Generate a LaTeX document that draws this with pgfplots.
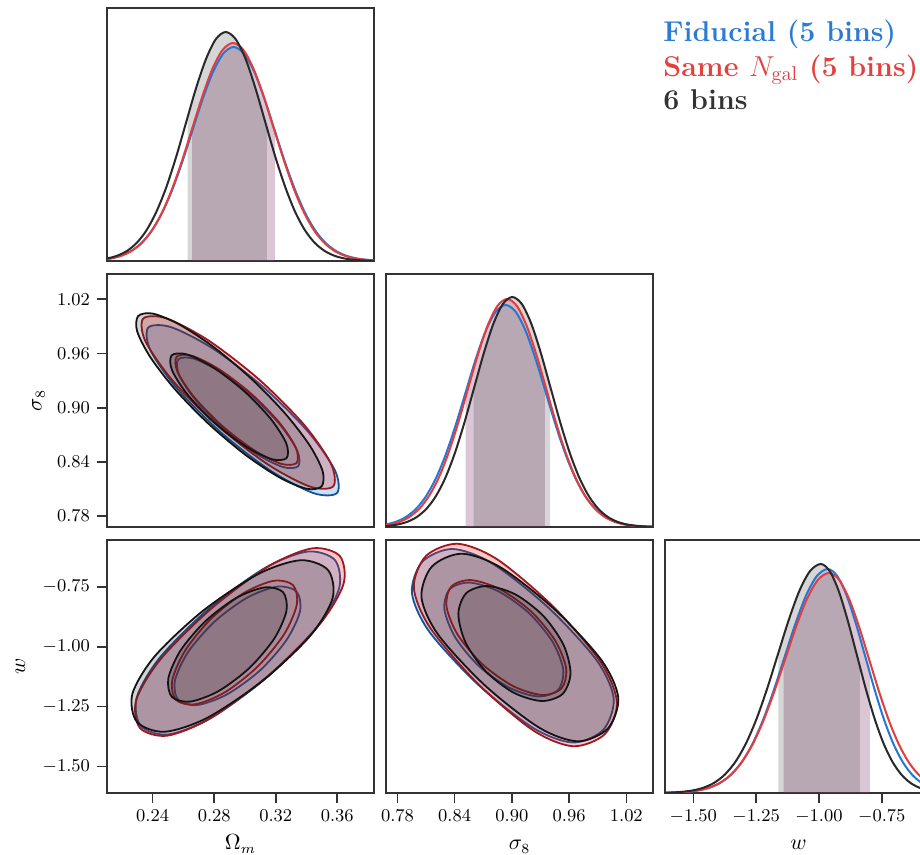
\documentclass[border=0pt]{standalone}
\usepackage{pgfplots}
\pgfplotsset{compat=1.18}

% shading colours (used with opacity) and line colours
\definecolor{cblue}{rgb}{0.08,0.56,0.92}
\definecolor{cred}{rgb}{0.96,0.12,0.12}
\definecolor{cgray}{rgb}{0.15,0.15,0.15}
\definecolor{lblue}{rgb}{0.13,0.47,0.84}
\definecolor{lred}{rgb}{0.89,0.24,0.24}
\definecolor{lblack}{rgb}{0.16,0.16,0.16}
\definecolor{dblue}{rgb}{0.10,0.32,0.58}
\definecolor{dred}{rgb}{0.62,0.10,0.12}
\definecolor{dblack}{rgb}{0.08,0.08,0.08}
\definecolor{frame}{rgb}{0.2,0.2,0.2}
\definecolor{legblue}{rgb}{0.17,0.48,0.83}
\definecolor{legred}{rgb}{0.89,0.25,0.25}
\definecolor{legblack}{rgb}{0.2,0.2,0.2}

\tikzset{legtext/.style={anchor=base west, inner sep=0pt, font=\fontsize{14.3}{17}\selectfont\bfseries}}

\pgfplotsset{
  panel/.style={
    scale only axis, width=133.5pt, height=126.5pt,
    axis line style={line width=1.1pt, draw=frame},
    tick align=outside, major tick length=5pt,
    tick style={line width=0.8pt, draw=frame},
    xtick pos=left, ytick pos=left,
    tick label style={font=\fontsize{9}{10}\selectfont},
    label style={font=\fontsize{10.5}{12}\selectfont},
    xticklabel style={/pgf/number format/fixed, /pgf/number format/fixed zerofill, /pgf/number format/precision=2},
    yticklabel style={/pgf/number format/fixed, /pgf/number format/fixed zerofill, /pgf/number format/precision=2},
    xlabel style={at={(axis description cs:0.5,-0.225)}, anchor=base},
  },
  oned/.style={panel, ymin=0, ymax=253, ytick=\empty},
  omx/.style={xmin=0.2103, xmax=0.3839},
  s8x/.style={xmin=0.768, xmax=1.048},
  s8y/.style={ymin=0.768, ymax=1.048},
  wy/.style={ymin=-1.61, ymax=-0.555},
  wx/.style={xmin=-1.6127, xmax=-0.55},
  % 2D credible regions
  bout/.style={smooth cycle, fill=cblue, fill opacity=0.25, draw=dblue, line width=0.9pt},
  bin/.style={smooth cycle, fill=cblue, fill opacity=0.05, draw=dblue, line width=0.9pt},
  rout/.style={smooth cycle, fill=cred, fill opacity=0.25, draw=dred, line width=0.9pt},
  rin/.style={smooth cycle, fill=cred, fill opacity=0.05, draw=dred, line width=0.9pt},
  kout/.style={smooth cycle, fill=cgray, fill opacity=0.20, draw=dblack, line width=0.9pt},
  kin/.style={smooth cycle, fill=cgray, fill opacity=0.20, draw=dblack, line width=0.9pt},
  % 1D marginals
  bband/.style={draw=none, fill=cblue, fill opacity=0.18},
  rband/.style={draw=none, fill=cred, fill opacity=0.18},
  kband/.style={draw=none, fill=cgray, fill opacity=0.19},
  bline/.style={smooth, draw=lblue, line width=1pt},
  rline/.style={smooth, draw=lred, line width=1pt},
  kline/.style={smooth, draw=lblack, line width=1pt},
}

\begin{document}
\begin{tikzpicture}

% ---------- Omega_m marginal ----------
\begin{axis}[oned, omx, at={(53.5pt,297pt)}, anchor=south west, xtick=\empty]
\addplot[bband] coordinates {(0.2657,0) (0.2657,129.8) (0.2724,161.54) (0.2792,188.86) (0.2859,207.42) (0.2926,214) (0.2993,207.42) (0.3061,188.86) (0.3128,161.54) (0.3195,129.8) (0.3195,0)} -- cycle;
\addplot[rband] coordinates {(0.2657,0) (0.2657,132.8) (0.2723,164.56) (0.2789,192.39) (0.2856,211.29) (0.2922,218) (0.2989,211.29) (0.3055,192.39) (0.3122,164.56) (0.3188,132.22) (0.3195,128.8) (0.3195,0)} -- cycle;
\addplot[kband] coordinates {(0.2628,0) (0.2628,144.3) (0.2682,172.86) (0.2747,202.09) (0.2811,221.95) (0.2875,229) (0.2939,221.95) (0.3004,202.09) (0.3068,172.86) (0.3132,138.90) (0.3143,132.9) (0.3143,0)} -- cycle;
\addplot[bline] coordinates {(0.2052,1.09) (0.2119,2.38) (0.2186,4.88) (0.2254,9.40) (0.2321,17.03) (0.2388,28.96) (0.2455,46.28) (0.2523,69.48) (0.2590,97.98) (0.2657,129.80) (0.2724,161.54) (0.2792,188.86) (0.2859,207.42) (0.2926,214) (0.2993,207.42) (0.3061,188.86) (0.3128,161.54) (0.3195,129.80) (0.3262,97.98) (0.3330,69.48) (0.3397,46.28) (0.3464,28.96) (0.3531,17.03) (0.3599,9.40) (0.3666,4.88) (0.3733,2.38) (0.3800,1.09) (0.3868,0.47)};
\addplot[rline] coordinates {(0.2058,1.11) (0.2124,2.42) (0.2191,4.97) (0.2257,9.58) (0.2324,17.34) (0.2390,29.50) (0.2457,47.15) (0.2523,70.77) (0.2590,99.81) (0.2656,132.22) (0.2723,164.56) (0.2789,192.39) (0.2856,211.29) (0.2922,218) (0.2989,211.29) (0.3055,192.39) (0.3122,164.56) (0.3188,132.22) (0.3255,99.81) (0.3321,70.77) (0.3388,47.15) (0.3454,29.50) (0.3521,17.34) (0.3587,9.58) (0.3654,4.97) (0.3720,2.42) (0.3787,1.11) (0.3853,0.48)};
\addplot[kline] coordinates {(0.2040,1.16) (0.2104,2.54) (0.2168,5.22) (0.2233,10.06) (0.2297,18.22) (0.2361,30.99) (0.2425,49.53) (0.2490,74.34) (0.2554,104.84) (0.2618,138.90) (0.2682,172.86) (0.2747,202.09) (0.2811,221.95) (0.2875,229) (0.2939,221.95) (0.3004,202.09) (0.3068,172.86) (0.3132,138.90) (0.3196,104.84) (0.3261,74.34) (0.3325,49.53) (0.3389,30.99) (0.3453,18.22) (0.3518,10.06) (0.3582,5.22) (0.3646,2.54) (0.3710,1.16) (0.3775,0.50) (0.3839,0.20) (0.3903,0.08)};
\end{axis}

% ---------- Omega_m vs sigma_8 ----------
\begin{axis}[panel, omx, s8y, at={(53.5pt,164pt)}, anchor=south west, xtick=\empty,
  ytick={0.78,0.84,0.90,0.96,1.02}, ylabel={$\sigma_8$},
  ylabel style={at={(axis description cs:-0.245,0.5)}, anchor=base}]
\addplot[bout] coordinates {(0.2371,0.9887) (0.2521,0.9891) (0.2796,0.9650) (0.3121,0.9226) (0.3410,0.8735) (0.3585,0.8307) (0.3599,0.8057) (0.3449,0.8053) (0.3174,0.8295) (0.2849,0.8718) (0.2560,0.9210) (0.2385,0.9637)};
\addplot[bin] coordinates {(0.2566,0.9535) (0.2666,0.9544) (0.2843,0.9393) (0.3051,0.9121) (0.3233,0.8802) (0.3341,0.8521) (0.3346,0.8353) (0.3246,0.8344) (0.3069,0.8495) (0.2861,0.8767) (0.2679,0.9086) (0.2571,0.9366)};
\addplot[rout] coordinates {(0.2338,0.9986) (0.2489,0.9989) (0.2765,0.9742) (0.3092,0.9312) (0.3383,0.8814) (0.3559,0.8381) (0.3574,0.8130) (0.3423,0.8127) (0.3147,0.8374) (0.2820,0.8804) (0.2529,0.9302) (0.2353,0.9735)};
\addplot[rin] coordinates {(0.2556,0.9565) (0.2656,0.9575) (0.2833,0.9424) (0.3041,0.9154) (0.3223,0.8836) (0.3331,0.8556) (0.3336,0.8389) (0.3236,0.8379) (0.3059,0.8530) (0.2851,0.8800) (0.2669,0.9118) (0.2561,0.9398)};
\addplot[kout] coordinates {(0.2306,1.0015) (0.2403,1.0041) (0.2577,0.9918) (0.2799,0.9668) (0.3038,0.9326) (0.3256,0.8946) (0.3420,0.8585) (0.3505,0.8298) (0.3498,0.8129) (0.3401,0.8103) (0.3227,0.8226) (0.3005,0.8476) (0.2766,0.8818) (0.2548,0.9198) (0.2385,0.9559) (0.2299,0.9846)};
\addplot[kin] coordinates {(0.2523,0.9579) (0.2620,0.9591) (0.2792,0.9448) (0.2992,0.9188) (0.3166,0.8880) (0.3268,0.8608) (0.3271,0.8443) (0.3174,0.8431) (0.3002,0.8574) (0.2802,0.8834) (0.2628,0.9142) (0.2526,0.9414)};
\end{axis}

% ---------- sigma_8 marginal ----------
\begin{axis}[oned, s8x, at={(193pt,164pt)}, anchor=south west, xtick=\empty]
\addplot[bband] coordinates {(0.8516,0) (0.8516,135.9) (0.8620,167.57) (0.8725,195.92) (0.8830,215.17) (0.8935,222) (0.9040,215.17) (0.9145,195.92) (0.9250,167.57) (0.9345,137.9) (0.9345,0)} -- cycle;
\addplot[rband] coordinates {(0.8516,0) (0.8516,130.2) (0.8540,138.29) (0.8643,172.10) (0.8745,201.21) (0.8848,220.98) (0.8950,228) (0.9053,220.98) (0.9155,201.21) (0.9258,172.10) (0.9345,143.4) (0.9345,0)} -- cycle;
\addplot[kband] coordinates {(0.860,0) (0.860,137.7) (0.8705,173.61) (0.8805,202.98) (0.8905,222.92) (0.9005,230) (0.9105,222.92) (0.9205,202.98) (0.9305,173.61) (0.940,141.2) (0.940,0)} -- cycle;
\addplot[bline] coordinates {(0.7675,2.47) (0.7780,5.06) (0.7885,9.75) (0.7990,17.66) (0.8095,30.05) (0.8200,48.01) (0.8305,72.07) (0.8410,101.64) (0.8515,134.65) (0.8620,167.57) (0.8725,195.92) (0.8830,215.17) (0.8935,222) (0.9040,215.17) (0.9145,195.92) (0.9250,167.57) (0.9355,134.65) (0.9460,101.64) (0.9565,72.07) (0.9670,48.01) (0.9775,30.05) (0.9880,17.66) (0.9985,9.75) (1.0090,5.06) (1.0195,2.47) (1.0300,1.13) (1.0405,0.49) (1.0510,0.20)};
\addplot[rline] coordinates {(0.7618,1.16) (0.7720,2.53) (0.7823,5.20) (0.7925,10.02) (0.8028,18.14) (0.8130,30.86) (0.8233,49.31) (0.8335,74.02) (0.8438,104.39) (0.8540,138.29) (0.8643,172.10) (0.8745,201.21) (0.8848,220.98) (0.8950,228) (0.9053,220.98) (0.9155,201.21) (0.9258,172.10) (0.9360,138.29) (0.9463,104.39) (0.9565,74.02) (0.9668,49.31) (0.9770,30.86) (0.9873,18.14) (0.9975,10.02) (1.0078,5.20) (1.0180,2.53) (1.0283,1.16) (1.0385,0.50) (1.0488,0.20)};
\addplot[kline] coordinates {(0.7605,0.50) (0.7705,1.17) (0.7805,2.56) (0.7905,5.24) (0.8005,10.11) (0.8105,18.30) (0.8205,31.13) (0.8305,49.74) (0.8405,74.67) (0.8505,105.30) (0.8605,139.50) (0.8705,173.61) (0.8805,202.98) (0.8905,222.92) (0.9005,230) (0.9105,222.92) (0.9205,202.98) (0.9305,173.61) (0.9405,139.50) (0.9505,105.30) (0.9605,74.67) (0.9705,49.74) (0.9805,31.13) (0.9905,18.30) (1.0005,10.11) (1.0105,5.24) (1.0205,2.56) (1.0305,1.17) (1.0405,0.50) (1.0505,0.20)};
\end{axis}

% ---------- Omega_m vs w ----------
\begin{axis}[panel, omx, wy, at={(53.5pt,31pt)}, anchor=south west,
  xtick={0.24,0.28,0.32,0.36}, ytick={-1.5,-1.25,-1,-0.75},
  xlabel={$\Omega_m$}, ylabel={$w$},
  ylabel style={at={(axis description cs:-0.307,0.5)}, anchor=base}]
\addplot[bout] coordinates {(0.2323,-1.3305) (0.2501,-1.3659) (0.2781,-1.2968) (0.3144,-1.1271) (0.3462,-0.9232) (0.3612,-0.7572) (0.3585,-0.6387) (0.3407,-0.6033) (0.3128,-0.6724) (0.2764,-0.8421) (0.2446,-1.0460) (0.2296,-1.2120)};
\addplot[bin] coordinates {(0.2566,-1.2222) (0.2691,-1.2432) (0.2885,-1.1981) (0.3098,-1.0989) (0.3270,-0.9722) (0.3358,-0.8520) (0.3336,-0.7704) (0.3211,-0.7494) (0.3017,-0.7945) (0.2805,-0.8937) (0.2632,-1.0204) (0.2545,-1.1406)};
\addplot[rout] coordinates {(0.2317,-1.3388) (0.2496,-1.3710) (0.2780,-1.2964) (0.3154,-1.1196) (0.3482,-0.9094) (0.3640,-0.7402) (0.3617,-0.6220) (0.3438,-0.5898) (0.3154,-0.6644) (0.2781,-0.8412) (0.2452,-1.0514) (0.2294,-1.2206)};
\addplot[rin] coordinates {(0.2552,-1.2221) (0.2679,-1.2396) (0.2874,-1.1883) (0.3084,-1.0818) (0.3254,-0.9487) (0.3337,-0.8246) (0.3312,-0.7429) (0.3185,-0.7254) (0.2991,-0.7768) (0.2780,-0.8833) (0.2611,-1.0164) (0.2527,-1.1404)};
\addplot[kout] coordinates {(0.2298,-1.3138) (0.2477,-1.3548) (0.2754,-1.2968) (0.3112,-1.1434) (0.3424,-0.9548) (0.3570,-0.7974) (0.3540,-0.6804) (0.3361,-0.6394) (0.3085,-0.6974) (0.2726,-0.8508) (0.2414,-1.0394) (0.2268,-1.1968)};
\addplot[kin] coordinates {(0.2525,-1.2096) (0.2645,-1.2289) (0.2830,-1.1845) (0.3030,-1.0881) (0.3191,-0.9657) (0.3270,-0.8500) (0.3247,-0.7720) (0.3127,-0.7527) (0.2942,-0.7972) (0.2743,-0.8935) (0.2581,-1.0160) (0.2502,-1.1316)};
\end{axis}

% ---------- sigma_8 vs w ----------
\begin{axis}[panel, s8x, wy, at={(193pt,31pt)}, anchor=south west,
  xtick={0.78,0.84,0.90,0.96,1.02}, ytick=\empty, xlabel={$\sigma_8$}]
\addplot[bout] coordinates {(0.8060,-0.6460) (0.8377,-0.5925) (0.8793,-0.6524) (0.9380,-0.8360) (0.9886,-1.0549) (1.0068,-1.2155) (0.9960,-1.3460) (0.9643,-1.3995) (0.9227,-1.3397) (0.8640,-1.1560) (0.8134,-0.9372) (0.7952,-0.7765)};
\addplot[bin] coordinates {(0.8349,-0.7596) (0.8556,-0.7326) (0.8860,-0.7692) (0.9179,-0.8596) (0.9427,-0.9796) (0.9539,-1.0970) (0.9484,-1.1804) (0.9276,-1.2074) (0.8972,-1.1708) (0.8653,-1.0804) (0.8405,-0.9604) (0.8292,-0.8430)};
\addplot[rout] coordinates {(0.8100,-0.6212) (0.8433,-0.5708) (0.8854,-0.6378) (0.9437,-0.8341) (0.9933,-1.0653) (1.0102,-1.2324) (0.9975,-1.3646) (0.9641,-1.4150) (0.9220,-1.3480) (0.8637,-1.1517) (0.8142,-0.9205) (0.7972,-0.7534)};
\addplot[rin] coordinates {(0.8366,-0.7483) (0.8572,-0.7223) (0.8877,-0.7604) (0.9200,-0.8525) (0.9453,-0.9738) (0.9570,-1.0919) (0.9518,-1.1751) (0.9312,-1.2011) (0.9007,-1.1630) (0.8685,-1.0709) (0.8431,-0.9496) (0.8314,-0.8315)};
\addplot[kout] coordinates {(0.8161,-0.6659) (0.8473,-0.6122) (0.8880,-0.6688) (0.9451,-0.8455) (0.9941,-1.0569) (1.0116,-1.2130) (1.0007,-1.3409) (0.9695,-1.3946) (0.9288,-1.3380) (0.8717,-1.1613) (0.8227,-0.9499) (0.8052,-0.7938)};
\addplot[kin] coordinates {(0.8523,-0.7761) (0.8742,-0.7470) (0.9038,-0.7822) (0.9331,-0.8721) (0.9542,-0.9928) (0.9615,-1.1118) (0.9531,-1.1973) (0.9312,-1.2264) (0.9016,-1.1912) (0.8723,-1.1013) (0.8512,-0.9806) (0.8439,-0.8616)};
\end{axis}

% ---------- w marginal ----------
\begin{axis}[oned, wx, at={(332.5pt,31pt)}, anchor=south west,
  xtick={-1.5,-1.25,-1,-0.75}, xlabel={$w$}]
\addplot[bband] coordinates {(-1.141,0) (-1.141,132.7) (-1.137,135.86) (-1.094,169.08) (-1.051,197.68) (-1.008,217.11) (-0.965,224) (-0.9275,217.11) (-0.89,197.68) (-0.8525,169.08) (-0.815,135.86) (-0.797,119.6) (-0.797,0)} -- cycle;
\addplot[rband] coordinates {(-1.141,0) (-1.141,128.9) (-1.135,133.44) (-1.0913,166.06) (-1.0475,194.15) (-1.0038,213.23) (-0.96,220) (-0.92,213.23) (-0.88,194.15) (-0.84,166.06) (-0.80,133.44) (-0.797,130.9) (-0.797,0)} -- cycle;
\addplot[kband] coordinates {(-1.161,0) (-1.161,140.5) (-1.1205,172.86) (-1.078,202.09) (-1.0355,221.95) (-0.993,229) (-0.9573,221.95) (-0.9215,202.09) (-0.8858,172.86) (-0.85,138.90) (-0.837,126.3) (-0.837,0)} -- cycle;
\addplot[bline] coordinates {(-1.610,0.20) (-1.567,0.49) (-1.524,1.14) (-1.481,2.49) (-1.438,5.10) (-1.395,9.84) (-1.352,17.82) (-1.309,30.32) (-1.266,48.44) (-1.223,72.72) (-1.180,102.55) (-1.137,135.86) (-1.094,169.08) (-1.051,197.68) (-1.008,217.11) (-0.965,224) (-0.9275,217.11) (-0.89,197.68) (-0.8525,169.08) (-0.815,135.86) (-0.7775,102.55) (-0.74,72.72) (-0.7025,48.44) (-0.665,30.32) (-0.6275,17.82) (-0.59,9.84) (-0.5525,5.10) (-0.515,2.49)};
\addplot[rline] coordinates {(-1.6163,0.19) (-1.5725,0.48) (-1.5288,1.12) (-1.4850,2.44) (-1.4413,5.01) (-1.3975,9.67) (-1.3538,17.50) (-1.3100,29.77) (-1.2663,47.58) (-1.2225,71.42) (-1.1788,100.72) (-1.1350,133.44) (-1.0913,166.06) (-1.0475,194.15) (-1.0038,213.23) (-0.96,220) (-0.92,213.23) (-0.88,194.15) (-0.84,166.06) (-0.80,133.44) (-0.76,100.72) (-0.72,71.42) (-0.68,47.58) (-0.64,29.77) (-0.60,17.50) (-0.56,9.67) (-0.52,5.01)};
\addplot[kline] coordinates {(-1.6305,0.20) (-1.5880,0.50) (-1.5455,1.16) (-1.5030,2.54) (-1.4605,5.22) (-1.4180,10.06) (-1.3755,18.22) (-1.3330,30.99) (-1.2905,49.53) (-1.2480,74.34) (-1.2055,104.84) (-1.1630,138.90) (-1.1205,172.86) (-1.0780,202.09) (-1.0355,221.95) (-0.9930,229) (-0.9573,221.95) (-0.9215,202.09) (-0.8858,172.86) (-0.8500,138.90) (-0.8143,104.84) (-0.7785,74.34) (-0.7428,49.53) (-0.7070,30.99) (-0.6713,18.22) (-0.6355,10.06) (-0.5998,5.22) (-0.5640,2.54) (-0.5283,1.16)};
\end{axis}

% ---------- legend ----------
\node[legtext, text=legblue] at (331.5pt,406.5pt) {Fiducial (5 bins)};
\node[legtext, text=legred] at (331.5pt,389.25pt) {Same $N_{\mathrm{gal}}$ (5 bins)};
\node[legtext, text=legblack] at (331.5pt,372.5pt) {6 bins};

\pgfresetboundingbox
\path[use as bounding box] (0,0) rectangle (460pt,427.5pt);
\end{tikzpicture}
\end{document}
